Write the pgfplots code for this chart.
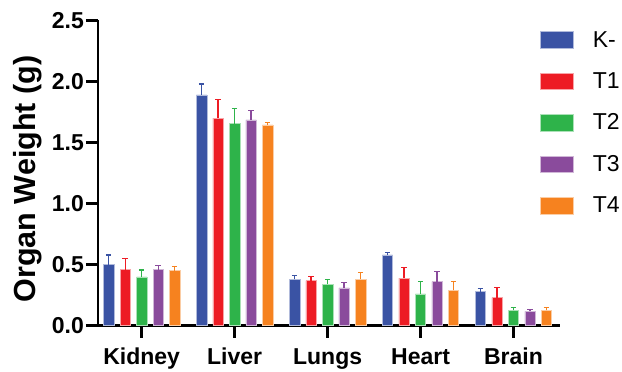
\documentclass[border=0pt]{standalone}
\usepackage{pgfplots}
\pgfplotsset{compat=1.18}
\usepackage{fontspec}
\setmainfont{Liberation Sans}
\definecolor{cK}{HTML}{3A53A4}
\definecolor{cA}{HTML}{ED1C24}
\definecolor{cB}{HTML}{2EB34A}
\definecolor{cC}{HTML}{8A4B9C}
\definecolor{cD}{HTML}{F6821F}
\pgfplotsset{
  mybar/.style={fill=#1, draw=#1!40!white, line width=0.5pt,
    error bars/y dir=plus, error bars/y explicit,
    error bars/error bar style={#1, line width=1.3pt},
    error bars/error mark options={#1, rotate=90, mark size=2.8pt, line width=1.3pt}},
}
\begin{document}
\begin{tikzpicture}
\useasboundingbox (-98pt,-46.3pt) rectangle (524pt,325.7pt);
\begin{axis}[
  scale only axis, width=462pt, height=305.3pt,
  xmin=-0.47, xmax=4.5, ymin=0, ymax=2.5,
  enlargelimits=false,
  axis x line=bottom, axis y line=left,
  axis line style={-, line width=2.7pt, black},
  tick style={line width=2.7pt, black},
  major tick length=12pt, tick align=outside,
  xtick={0,1,2,3,4}, xticklabels={Kidney,Liver,Lungs,Heart,Brain},
  ytick={0,0.5,1,1.5,2,2.5},
  /pgf/number format/assume math mode=true,
  /pgf/number format/fixed, /pgf/number format/fixed zerofill, /pgf/number format/precision=1,
  yticklabel style={font=\fontsize{23}{23}\selectfont\bfseries, inner sep=2pt},
  xticklabel style={font=\fontsize{23}{23}\selectfont\bfseries, yshift=-7pt},
  ylabel={Organ Weight (g)},
  ylabel style={font=\fontsize{30.5}{30.5}\selectfont\bfseries, at={(axis description cs:-0.1515,0.4805)}, anchor=center},
  ybar=6.2pt, bar width=10.3pt,
  legend cell align=left,
  legend image code/.code={\fill[#1] (0pt,-8.3pt) rectangle (33pt,8.3pt);},
  legend style={at={(axis description cs:0.957,0.965)}, anchor=north west,
    draw=none, fill=none, inner sep=0pt, row sep=24pt,
    font=\fontsize{23}{23}\selectfont,
    nodes={inner sep=0pt},
    /tikz/every odd column/.append style={column sep=19pt}},
]
\addplot[mybar=cK] coordinates {(0,0.50) +- (0,0.08) (1,1.89) +- (0,0.09) (2,0.38) +- (0,0.03) (3,0.58) +- (0,0.02) (4,0.28) +- (0,0.023)};
\addplot[mybar=cA] coordinates {(0,0.46) +- (0,0.09) (1,1.70) +- (0,0.15) (2,0.37) +- (0,0.033) (3,0.39) +- (0,0.087) (4,0.23) +- (0,0.08)};
\addplot[mybar=cB] coordinates {(0,0.40) +- (0,0.055) (1,1.655) +- (0,0.125) (2,0.34) +- (0,0.04) (3,0.26) +- (0,0.10) (4,0.125) +- (0,0.022)};
\addplot[mybar=cC] coordinates {(0,0.46) +- (0,0.035) (1,1.685) +- (0,0.08) (2,0.31) +- (0,0.045) (3,0.36) +- (0,0.085) (4,0.117) +- (0,0.017)};
\addplot[mybar=cD] coordinates {(0,0.45) +- (0,0.035) (1,1.645) +- (0,0.02) (2,0.38) +- (0,0.055) (3,0.29) +- (0,0.07) (4,0.125) +- (0,0.022)};
\legend{K-,T1,T2,T3,T4}
\end{axis}
\end{tikzpicture}
\end{document}
